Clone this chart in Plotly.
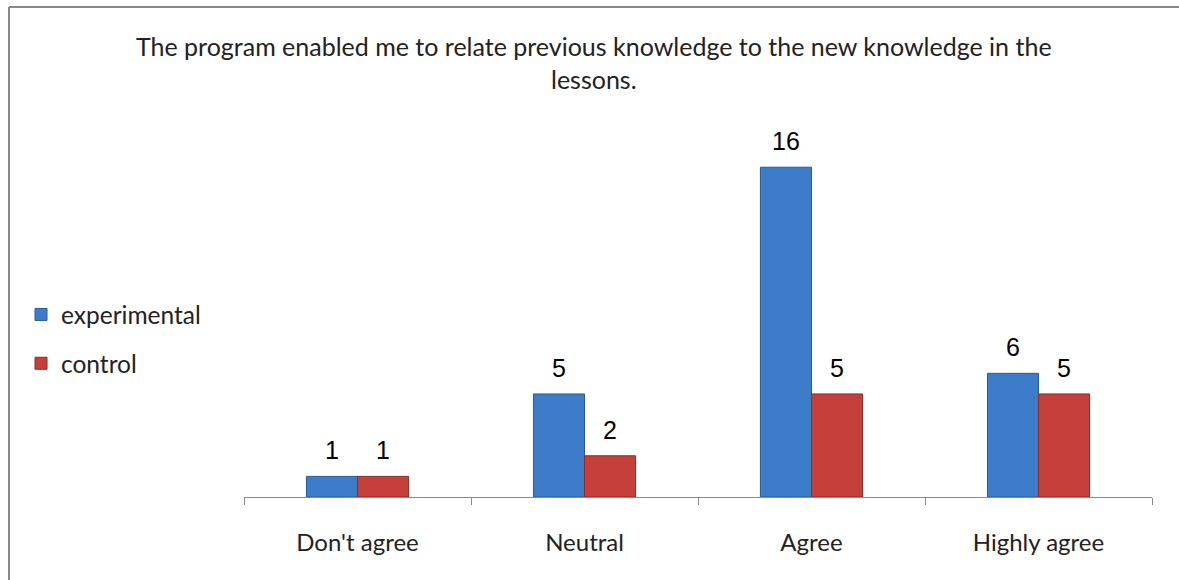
import plotly.graph_objects as go

# Survey responses per category
categories = ["Don't agree", "Neutral", "Agree", "Highly agree"]
experimental = [1, 5, 16, 6]
control = [1, 2, 5, 5]
series_names = ["experimental", "control"]
title_text = ("The program enabled me to relate previous knowledge to the new knowledge in the"
              "<br>lessons.")

W, H = 1179, 580
M_L, M_R, M_T, M_B = 244, 27, 126, 83
PW = W - M_L - M_R
PH = H - M_T - M_B


def px_x(p):
    return (p - M_L) / PW


def px_y(p):
    return (H - M_B - p) / PH


BLUE = "#3c7cc8"
BLUE_EDGE = "#2a5a94"
RED = "#c53f3b"
RED_EDGE = "#8c2b28"
TEXT_FONT = "Lato, Open Sans"
TEXT_COLOR = "#222222"

fig = go.Figure()
fig.add_trace(go.Bar(
    x=categories, y=experimental, name=series_names[0], legendgroup="a",
    marker=dict(color=BLUE, line=dict(color=BLUE_EDGE, width=1)),
))
fig.add_trace(go.Bar(
    x=categories, y=control, name=series_names[1], legendgroup="b",
    marker=dict(color=RED, line=dict(color=RED_EDGE, width=1)),
))

# value labels above each bar
annotations = []
for vals, shift in ((experimental, -25.5), (control, 25.5)):
    for c, v in zip(categories, vals):
        annotations.append(dict(
            x=c, y=v, xref="x", yref="y", text=str(v), showarrow=False,
            xshift=shift, yshift=26, yanchor="middle",
            font=dict(family="Liberation Sans, Arial", size=25, color="#000000"),
        ))

annotations.append(dict(
    x=px_x(594), y=px_y(62), xref="paper", yref="paper", text=title_text,
    showarrow=False, xanchor="center", yanchor="middle", align="center",
    font=dict(family=TEXT_FONT, size=25, color=TEXT_COLOR),
))

# outer frame (left and top edges)
shapes = [
    dict(type="line", xref="paper", yref="paper", x0=px_x(9), x1=px_x(1185),
         y0=px_y(7), y1=px_y(7), line=dict(color="#888888", width=2)),
    dict(type="line", xref="paper", yref="paper", x0=px_x(9), x1=px_x(9),
         y0=px_y(7), y1=px_y(590), line=dict(color="#888888", width=2)),
]

fig.update_layout(
    width=W, height=H,
    margin=dict(l=M_L, r=M_R, t=M_T, b=M_B),
    paper_bgcolor="#ffffff", plot_bgcolor="#ffffff",
    barmode="group", bargap=0.55, bargroupgap=0,
    showlegend=True,
    legend=dict(
        x=px_x(21), y=px_y(292), xanchor="left", yanchor="top",
        font=dict(family=TEXT_FONT, size=24.5, color=TEXT_COLOR),
        tracegroupgap=14, traceorder="grouped", itemwidth=30,
        bgcolor="rgba(0,0,0,0)",
    ),
    annotations=annotations,
    shapes=shapes,
    xaxis=dict(
        showline=True, linecolor="#8a8a8a", linewidth=1,
        ticks="outside", tickson="boundaries", ticklen=7, tickcolor="#8a8a8a",
        tickfont=dict(family=TEXT_FONT, size=24, color=TEXT_COLOR),
        ticklabelstandoff=24, showgrid=False,
    ),
    yaxis=dict(range=[0, 18], visible=False, showgrid=False),
)

fig.write_html("out.html")
